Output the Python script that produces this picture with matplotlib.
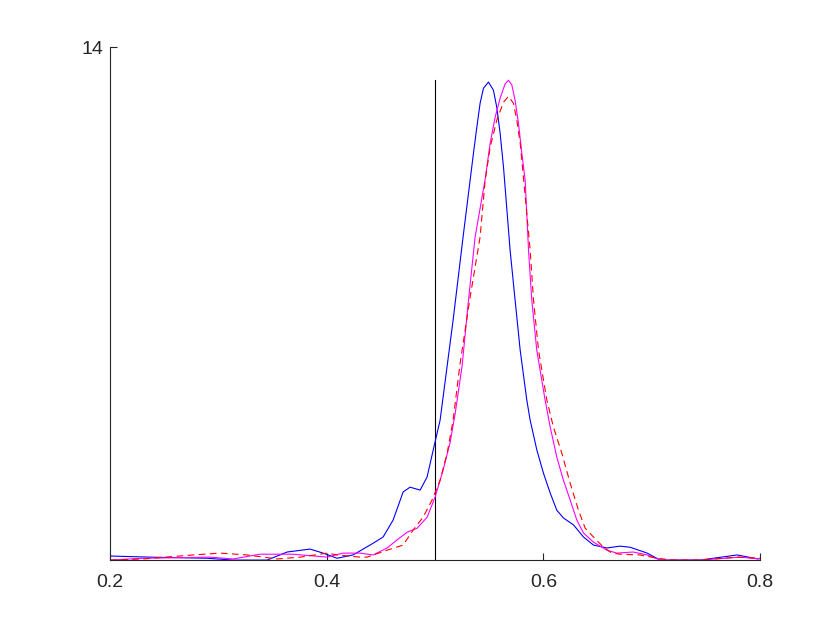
import matplotlib
matplotlib.use("Agg")
import matplotlib.pyplot as plt

# blue curve (solid)
blue_x = [0.2, 0.237, 0.2895, 0.3135, 0.345, 0.3634, 0.3846, 0.3966, 0.4095,
          0.4243, 0.4428, 0.452, 0.4612, 0.4705, 0.4769, 0.4862, 0.4926, 0.4982,
          0.5046, 0.5166, 0.5258, 0.5323, 0.5354, 0.5385, 0.5415, 0.5446, 0.5492,
          0.5538, 0.5569, 0.56, 0.5631, 0.5692, 0.5738, 0.5785, 0.5846, 0.5877,
          0.5939, 0.6, 0.6062, 0.6123, 0.6184, 0.6277, 0.6369, 0.6461, 0.6585,
          0.6708, 0.68, 0.6957, 0.7077, 0.7446, 0.7788, 0.798]
blue_y = [0.11, 0.08, 0.05, 0.0, 0.0, 0.22, 0.30, 0.19, 0.05,
          0.14, 0.46, 0.63, 1.09, 1.86, 1.99, 1.91, 2.27, 3.0,
          3.82, 6.55, 8.82, 10.37, 11.11, 11.82, 12.47, 12.88, 13.05,
          12.83, 12.36, 11.65, 10.73, 8.46, 7.10, 5.73, 4.37, 3.82,
          3.0, 2.37, 1.83, 1.36, 1.15, 0.96, 0.63, 0.41, 0.33,
          0.38, 0.35, 0.19, 0.0, 0.0, 0.14, 0.03]

# magenta curve (solid)
mag_x = [0.2, 0.2305, 0.2923, 0.3135, 0.3385, 0.3689, 0.4003, 0.4151, 0.4308,
         0.4428, 0.4557, 0.4649, 0.4742, 0.4834, 0.4926, 0.5, 0.5074, 0.5138,
         0.5185, 0.5249, 0.5305, 0.5369, 0.5462, 0.5508, 0.5554, 0.56, 0.5646,
         0.5677, 0.5708, 0.5738, 0.5769, 0.58, 0.5831, 0.5862, 0.5892, 0.5938,
         0.6015, 0.6062, 0.6123, 0.6184, 0.6246, 0.6308, 0.6369, 0.6461, 0.6585,
         0.6677, 0.6828, 0.6957, 0.7077, 0.7446, 0.7815, 0.8]
mag_y = [0.0, 0.05, 0.08, 0.03, 0.16, 0.16, 0.08, 0.19, 0.19,
         0.14, 0.33, 0.55, 0.76, 0.87, 1.17, 1.72, 2.46, 3.2,
         4.0, 5.3, 7.01, 8.82, 10.4, 11.38, 12.09, 12.61, 13.0,
         13.1, 12.97, 12.55, 11.93, 11.11, 10.37, 8.46, 7.10, 5.73,
         4.37, 3.63, 2.81, 2.18, 1.64, 1.09, 0.74, 0.49, 0.27,
         0.19, 0.22, 0.14, 0.0, 0.0, 0.08, 0.03]

# red curve (dashed)
red_x = [0.2, 0.2305, 0.2766, 0.3015, 0.3265, 0.3542, 0.3754, 0.4003, 0.4095,
         0.4308, 0.4372, 0.4557, 0.4705, 0.4797, 0.4889, 0.4972, 0.5046, 0.5111,
         0.5166, 0.5231, 0.5323, 0.5415, 0.5462, 0.5508, 0.5569, 0.5631, 0.5677,
         0.5723, 0.5754, 0.5785, 0.5815, 0.5877, 0.5908, 0.5954, 0.6031, 0.6092,
         0.6169, 0.6246, 0.6323, 0.6385, 0.6461, 0.6554, 0.6631, 0.6708, 0.6892,
         0.7049, 0.7197, 0.7446, 0.7788, 0.8]
red_y = [0.0, 0.03, 0.14, 0.19, 0.14, 0.03, 0.08, 0.19, 0.14,
         0.08, 0.08, 0.27, 0.41, 0.82, 1.17, 1.64, 2.18, 2.92,
         3.82, 5.38, 7.18, 8.82, 10.37, 11.27, 12.01, 12.5, 12.66,
         12.47, 12.01, 11.38, 10.45, 8.46, 7.10, 5.73, 4.37, 3.63,
         2.92, 2.10, 1.36, 0.87, 0.63, 0.35, 0.19, 0.16, 0.14,
         0.05, 0.0, 0.0, 0.08, 0.05]

# vertical reference line
ref_x = 0.5
ref_top = 13.1

plt.rcParams['font.family'] = ['Liberation Sans', 'DejaVu Sans']

fig = plt.figure(figsize=(8.4, 6.3), dpi=100)
ax = fig.add_axes([0.131, 0.111, 0.774, 0.814])

ax.plot([ref_x, ref_x], [0, ref_top], color='k', lw=0.8)
ax.plot(blue_x, blue_y, color='#0000ff', lw=0.8)
ax.plot(mag_x, mag_y, color='#ff00ff', lw=0.8)
ax.plot(red_x, red_y, color='#ff0000', lw=0.8, ls=(0, (6, 4)))

ax.set_xlim(0.2, 0.8)
ax.set_ylim(0, 14)
ax.set_xticks([0.2, 0.4, 0.6, 0.8])
ax.set_xticklabels(['0.2', '0.4', '0.6', '0.8'])
ax.set_yticks([14])
ax.set_yticklabels(['14'])

for side in ['top', 'right']:
    ax.spines[side].set_visible(False)
for side in ['left', 'bottom']:
    ax.spines[side].set_color('#262626')
    ax.spines[side].set_linewidth(0.8)
ax.tick_params(direction='in', length=5, width=0.8, color='#262626',
               labelcolor='#262626', labelsize=14)
ax.tick_params(axis='x', pad=10)
ax.tick_params(axis='y', pad=5)

fig.savefig('out.png', dpi=100)
